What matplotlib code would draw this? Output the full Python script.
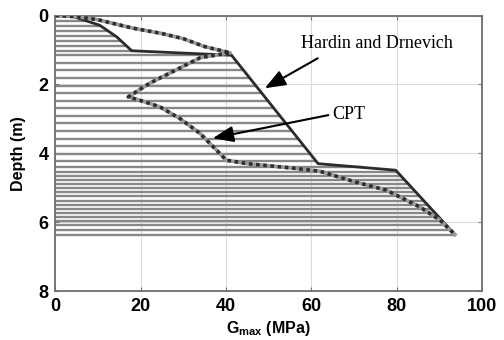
import numpy as np
import matplotlib
matplotlib.use("Agg")
import matplotlib.pyplot as plt

plt.rcParams['font.family'] = ['Liberation Sans', 'DejaVu Sans']
plt.rcParams['mathtext.fontset'] = 'custom'
plt.rcParams['mathtext.bf'] = 'Liberation Sans:bold'
plt.rcParams['mathtext.rm'] = 'Liberation Sans:bold'

# Hardin and Drnevich profile (G in MPa, depth in m)
hd_g = [0, 4, 10.4, 14.4, 17.9, 41.3, 61.6, 79.8, 93.7]
hd_depth = [0, 0.02, 0.28, 0.62, 1.02, 1.15, 4.3, 4.49, 6.36]

# CPT based profile
cpt_g = [0, 5, 10, 18, 25, 30, 35, 41, 34, 22, 17.1, 19.8, 24.5, 29.2, 33.9,
         37, 40.1, 45, 55, 62, 70, 77.6, 85.5, 90.2, 93.7]
cpt_depth = [0, 0.03, 0.12, 0.36, 0.52, 0.67, 0.9, 1.08, 1.22, 1.97, 2.36, 2.46,
             2.65, 2.99, 3.42, 3.81, 4.2, 4.3, 4.42, 4.52, 4.82, 5.07, 5.56,
             5.94, 6.36]

# soil layer boundaries used for the hatching
layer_depth = [0.15, 0.31, 0.45, 0.60, 0.73, 0.88, 1.02,
               1.15, 1.37, 1.59, 1.81, 2.03, 2.25, 2.47, 2.69, 2.91, 3.13,
               3.35, 3.57, 3.79, 4.01, 4.21, 4.41,
               4.53, 4.65, 4.77, 4.89, 5.01, 5.13, 5.25, 5.37, 5.49, 5.61,
               5.73, 5.85, 5.97, 6.09, 6.22, 6.36]

fig = plt.figure(figsize=(5.04, 3.4), dpi=100)
ax = fig.add_axes([0.110, 0.144, 0.846, 0.810])

# hatching: one line per layer, out to the Hardin profile
ends = np.interp(layer_depth, hd_depth, hd_g)
ax.hlines(layer_depth, 0, ends, color='#888888', lw=1.7, zorder=2)

ax.plot(hd_g, hd_depth, color='#2b2b2b', lw=2.0, zorder=3)
ax.plot(cpt_g, cpt_depth, color='#9a9a9a', lw=2.6, zorder=3)
ax.plot(cpt_g, cpt_depth, color='#2e2e2e', lw=2.6, ls=(0, (1, 1)), zorder=4)

ax.set_xlim(0, 100)
ax.set_ylim(8, 0)
ax.set_xticks([0, 20, 40, 60, 80, 100])
ax.set_yticks([0, 2, 4, 6, 8])
ax.grid(True, color='#dcdcdc', lw=0.8)
ax.set_axisbelow(True)
ax.tick_params(direction='in', top=True, right=True, length=3, width=0.8,
               color='#777777', labelsize=13, pad=5)
for lab in ax.get_xticklabels() + ax.get_yticklabels():
    lab.set_fontweight('bold')
for sp in ax.spines.values():
    sp.set_color('#6e6e6e')
    sp.set_linewidth(1.3)

ax.set_ylabel('Depth (m)', fontsize=11.5, fontweight='bold', labelpad=9)
ax.set_xlabel(r'G$_{\mathbf{max}}$ (MPa)', fontsize=11.5, fontweight='bold',
              labelpad=3)

arrow = dict(arrowstyle='-|>,head_length=0.9,head_width=0.35', color='black',
             lw=1.5, mutation_scale=14, shrinkA=0, shrinkB=0)
ax.text(57.5, 0.8, 'Hardin and Drnevich', family='Liberation Serif',
        fontsize=13, va='center', ha='left')
ax.annotate('', xy=(49.1, 2.11), xytext=(61.5, 1.24), arrowprops=arrow)
ax.text(65.0, 2.87, 'CPT', family='Liberation Serif', fontsize=13,
        va='center', ha='left')
ax.annotate('', xy=(36.9, 3.56), xytext=(64.0, 2.89), arrowprops=arrow)

plt.savefig('out.png', dpi=100)
